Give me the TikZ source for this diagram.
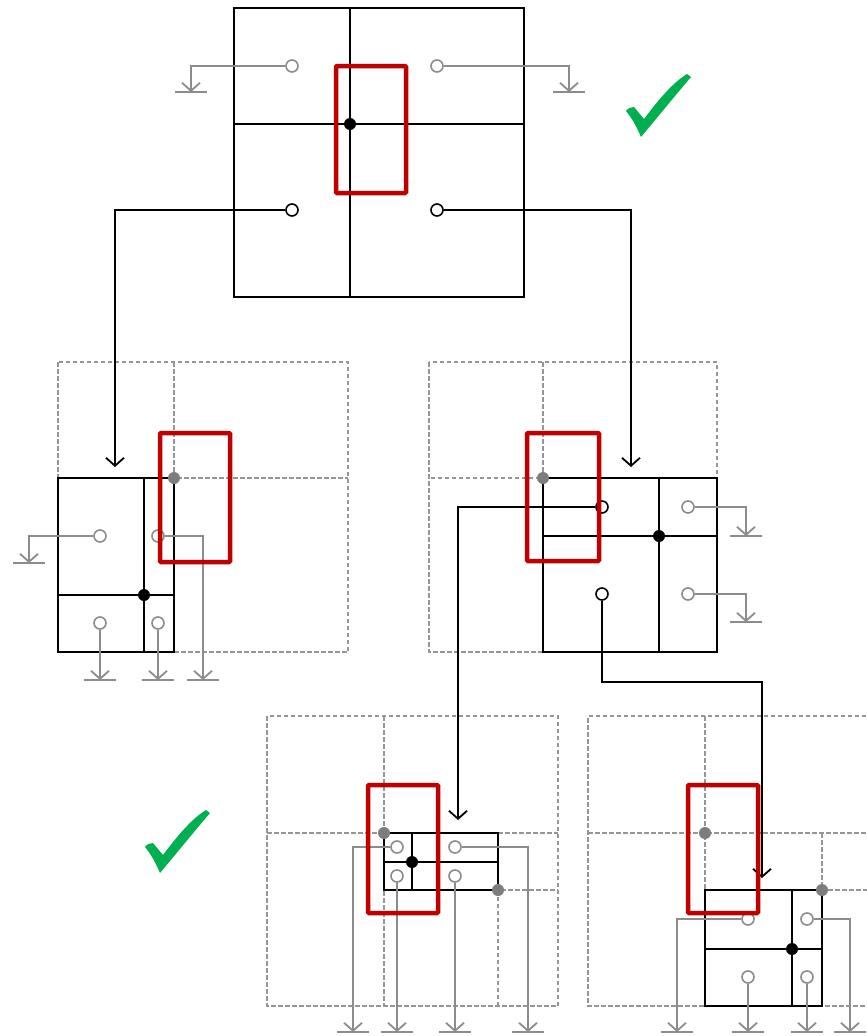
\documentclass[tikz,border=0pt]{standalone}
\usetikzlibrary{arrows.meta}
\definecolor{lg}{RGB}{140,140,140}
\definecolor{dg}{RGB}{150,150,150}
\definecolor{dotg}{RGB}{125,125,125}
\definecolor{rd}{RGB}{192,0,0}
\definecolor{gn}{RGB}{0,176,80}
\tikzset{
 box/.style={draw=black, line width=1.9pt},
 dsh/.style={draw=dg, line width=1.5pt, dash pattern=on 4.5pt off 2.5pt},
 hole/.style={circle, draw=#1, line width=1.6pt, minimum size=12pt, inner sep=0pt, fill=white},
 gline/.style={draw=lg, line width=1.8pt},
 bline/.style={draw=black, line width=1.8pt},
 garr/.style={gline, -{Straight Barb[length=8pt,width=18pt]}},
 barr/.style={bline, -{Straight Barb[length=8pt,width=18pt]}},
 gbar/.style={draw=lg, line width=1.8pt},
 sdot/.style={circle, fill=black, minimum size=12pt, inner sep=0pt},
 gdot/.style={circle, fill=dotg, minimum size=12pt, inner sep=0pt},
 redbox/.style={draw=rd, line width=4.5pt, rounded corners=1pt},
}
\newcommand\gndbar[1]{\draw[gbar] ([xshift=-16pt]#1) -- ([xshift=16pt]#1);}
\newcommand\chkmark[1]{\fill[gn,shift={#1}] (0,0) .. controls (2,-3) and (5,-4) .. (8,-4) -- (18,8) .. controls (30,-8) and (46,-28) .. (61,-37) -- (65,-34) .. controls (48,-14) and (30,8) .. (15,26) .. controls (10,14) and (5,6) .. (0,0) -- cycle;}
\begin{document}
\begin{tikzpicture}[x=1pt,y=-1pt]
\clip (0,0) rectangle (867,1036);
\fill[white] (0,0) rectangle (867,1036);
% ---------- dashed grids ----------
\draw[dsh] (58,362) rectangle (348,652);
\draw[dsh] (174,362) -- (174,478) -- (348,478);
\draw[dsh] (429,362) rectangle (717,652);
\draw[dsh] (543,362) -- (543,478) -- (429,478);
\draw[dsh] (267,716) rectangle (558,1006);
\draw[dsh] (384,716) -- (384,1006);
\draw[dsh] (267,833) -- (558,833);
\draw[dsh] (498,1006) -- (498,890) -- (558,890);
\draw[dsh] (880,716) -- (588,716) -- (588,1006) -- (880,1006);
\draw[dsh] (705,716) -- (705,890);
\draw[dsh] (588,833) -- (880,833);
\draw[dsh] (822,833) -- (822,890) -- (880,890);
% ---------- solid boxes ----------
\draw[box] (234,8) rectangle (524,297);
\draw[box] (350,8) -- (350,297);
\draw[box] (234,124) -- (524,124);
\draw[box] (58,478) rectangle (174,652);
\draw[box] (144,478) -- (144,652);
\draw[box] (58,595) -- (174,595);
\draw[box] (543,478) rectangle (717,652);
\draw[box] (659,478) -- (659,652);
\draw[box] (543,536) -- (717,536);
\draw[box] (384,833) rectangle (498,890);
\draw[box] (412,833) -- (412,890);
\draw[box] (384,862) -- (498,862);
\draw[box] (705,890) rectangle (822,1006);
\draw[box] (792,890) -- (792,1006);
\draw[box] (705,949) -- (822,949);
% ---------- split dots ----------
\node[sdot] (s0) at (350,124) {};
\node[sdot] (s1) at (144,595) {};
\node[sdot] (s2) at (659,536) {};
\node[sdot] (s3) at (412,862) {};
\node[sdot] (s4) at (792,949) {};
\node[gdot] (q1) at (174,478) {};
\node[gdot] (q2) at (543,478) {};
\node[gdot] (q3) at (384,833) {};
\node[gdot] (q4) at (498,890) {};
\node[gdot] (q5) at (705,833) {};
\node[gdot] (q6) at (822,890) {};
% ---------- holes ----------
\node[hole=lg] (t1) at (292,66) {};
\node[hole=lg] (t2) at (437,66) {};
\node[hole=black] (t3) at (292,210) {};
\node[hole=black] (t4) at (437,210) {};
\node[hole=lg] (m1) at (100,536) {};
\node[hole=lg] (m2) at (158,536) {};
\node[hole=lg] (m3) at (100,623) {};
\node[hole=lg] (m4) at (158,623) {};
\node[hole=black] (r1) at (602,507) {};
\node[hole=lg] (r2) at (688,507) {};
\node[hole=black] (r3) at (602,594) {};
\node[hole=lg] (r4) at (688,594) {};
\node[hole=lg] (b1) at (397,847) {};
\node[hole=lg] (b2) at (455,847) {};
\node[hole=lg] (b3) at (397,876) {};
\node[hole=lg] (b4) at (455,876) {};
\node[hole=lg] (c1) at (748,919) {};
\node[hole=lg] (c2) at (807,919) {};
\node[hole=lg] (c3) at (748,977) {};
\node[hole=lg] (c4) at (807,977) {};
% ---------- ground ends ----------
\coordinate (g1) at (191,92);
\coordinate (g2) at (569,92);
\coordinate (gm1) at (29,563);
\coordinate (gm2) at (203,680);
\coordinate (gm3) at (100,680);
\coordinate (gm4) at (158,680);
\coordinate (gr2) at (746,536);
\coordinate (gr4) at (746,622);
\coordinate (gb1) at (353,1032);
\coordinate (gb2) at (528,1032);
\coordinate (gb3) at (397,1032);
\coordinate (gb4) at (455,1032);
\coordinate (gc1) at (677,1032);
\coordinate (gc2) at (850,1032);
\coordinate (gc3) at (748,1032);
\coordinate (gc4) at (807,1032);
% ---------- gray connectors ----------
\draw[garr] (t1) -| (g1);
\draw[garr] (t2) -| (g2);
\draw[garr] (m1) -| (gm1);
\draw[garr] (m2) -| (gm2);
\draw[garr] (m3) -- (gm3);
\draw[garr] (m4) -- (gm4);
\draw[garr] (r2) -| (gr2);
\draw[garr] (r4) -| (gr4);
\draw[garr] (b1) -| (gb1);
\draw[garr] (b2) -| (gb2);
\draw[garr] (b3) -- (gb3);
\draw[garr] (b4) -- (gb4);
\draw[garr] (c1) -| (gc1);
\draw[garr] (c2) -| (gc2);
\draw[garr] (c3) -- (gc3);
\draw[garr] (c4) -- (gc4);
\foreach \g in {g1,g2,gm1,gm2,gm3,gm4,gr2,gr4,gb1,gb2,gb3,gb4,gc1,gc2,gc3,gc4}{\gndbar{\g}}
% ---------- black connectors ----------
\coordinate (k1) at (115,467);
\coordinate (k2) at (631,467);
\coordinate (k3) at (458,820);
\coordinate (k4) at (762,682);
\coordinate (k5) at (762,878);
\draw[barr] (t3) -| (k1);
\draw[barr] (t4) -| (k2);
\draw[barr] (r1) -| (k3);
\draw[barr] (r3) |- (k4) -- (k5);
% ---------- red highlight boxes ----------
\draw[redbox] (336,66) rectangle (406,193);
\draw[redbox] (160,433) rectangle (230,562);
\draw[redbox] (527,433) rectangle (599,561);
\draw[redbox] (368,785) rectangle (438,913);
\draw[redbox] (688,785) rectangle (758,913);
% ---------- check marks ----------
\chkmark{(626,111)}
\chkmark{(145,847)}
\end{tikzpicture}
\end{document}
